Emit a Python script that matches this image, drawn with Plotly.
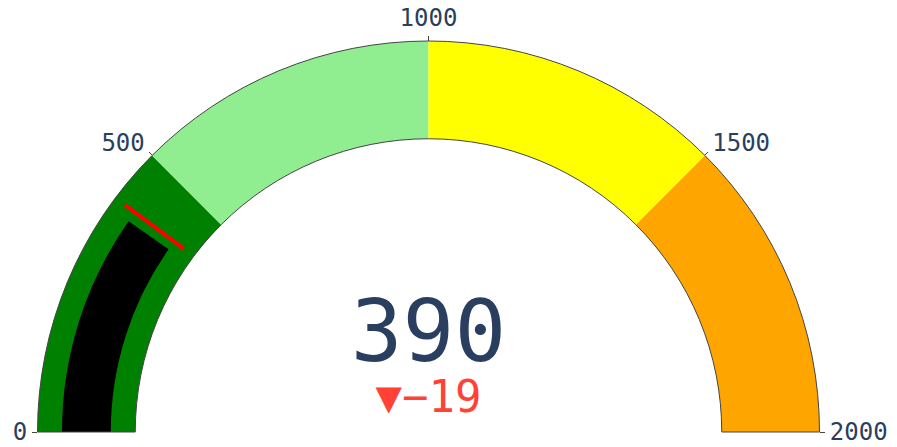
import plotly.graph_objects as go

value = 390
reference = 409
threshold_value = 409
axis_range = [0, 2000]
step_ranges = [[0, 500], [500, 1000], [1000, 1500], [1500, 2000]]
step_colors = ["green", "lightgreen", "yellow", "orange"]

fig = go.Figure(go.Indicator(
    mode="gauge+number+delta",
    value=value,
    number={"font": {"size": 86}},
    delta={"reference": reference, "font": {"size": 44}},
    domain={"x": [0, 1], "y": [0, 1]},
    gauge={
        "axis": {"range": axis_range, "tickfont": {"size": 24}},
        "bar": {"color": "black", "thickness": 0.5},
        "steps": [{"range": r, "color": c} for r, c in zip(step_ranges, step_colors)],
        "threshold": {"line": {"color": "red", "width": 4}, "thickness": 0.75,
                      "value": threshold_value},
    },
))
fig.update_layout(
    width=897, height=447,
    font={"family": "DejaVu Sans Mono"},
    margin={"l": 10, "r": 66, "t": 33, "b": 23},
)
fig.write_html("out.html")
